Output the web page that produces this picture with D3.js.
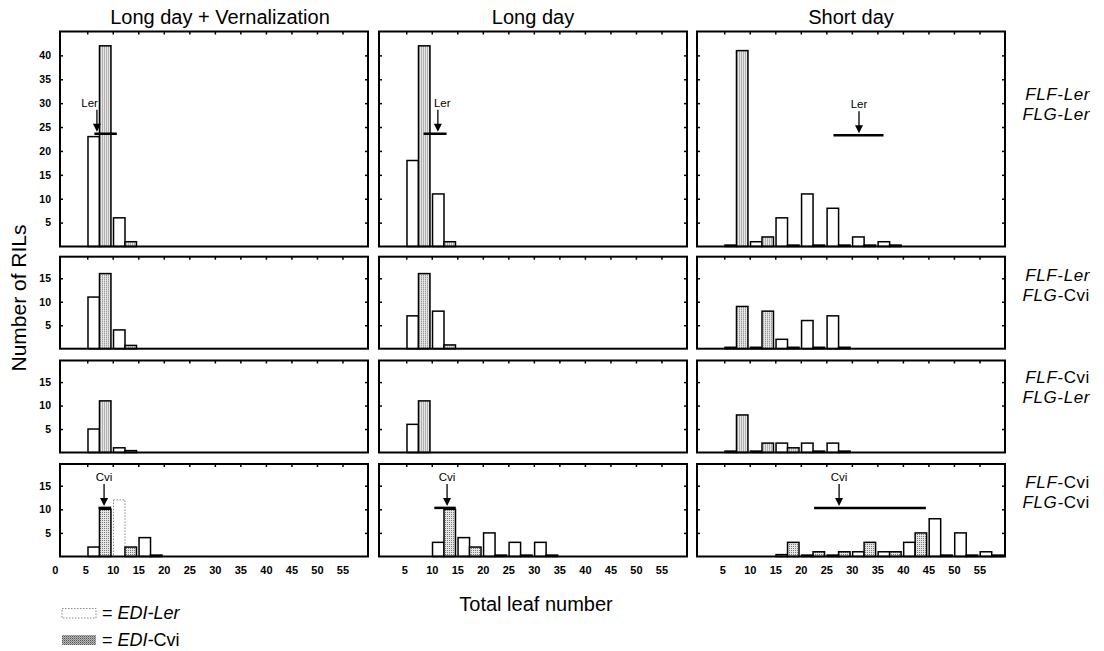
<!DOCTYPE html>
<html>
<head>
<meta charset="utf-8">
<script src="https://cdn.jsdelivr.net/npm/d3@7"></script>
<style>
  body { margin: 0; background: #fff; }
  svg { display: block; font-family: "Liberation Sans", Arial, sans-serif; }
</style>
</head>
<body>
<svg id="fig" width="1104" height="651"></svg>
<script>
// ---- data -------------------------------------------------------------
// Leaf-number classes (5 leaves wide); each class holds an EDI-Ler bar (left half)
// and an EDI-Cvi bar (right half). Values are numbers of RILs.
const binStarts = [0, 5, 10, 15, 20, 25, 30, 35, 40, 45, 50, 55];
const xTickValues = [5, 10, 15, 20, 25, 30, 35, 40, 45, 50, 55];
const conditions = ["Long day + Vernalization", "Long day", "Short day"];
const flfAlleles = ["Ler", "Ler", "Cvi", "Cvi"];
const flgAlleles = ["Ler", "Cvi", "Ler", "Cvi"];
const yTicksTall = [5, 10, 15, 20, 25, 30, 35, 40];
const yTicksShort = [5, 10, 15];

// FLF-Ler / FLG-Ler
const lerLer_LDV_ediLer = [0, 23, 6, 0, 0, 0, 0, 0, 0, 0, 0, 0];
const lerLer_LDV_ediCvi = [0, 42, 1, 0, 0, 0, 0, 0, 0, 0, 0, 0];
const lerLer_LD_ediLer  = [0, 18, 11, 0, 0, 0, 0, 0, 0, 0, 0, 0];
const lerLer_LD_ediCvi  = [0, 42, 1, 0, 0, 0, 0, 0, 0, 0, 0, 0];
const lerLer_SD_ediLer  = [0, 0.3, 1, 6, 11, 8, 2, 1, 0, 0, 0, 0];
const lerLer_SD_ediCvi  = [0, 41, 2, 0.3, 0.3, 0.3, 0.3, 0.3, 0, 0, 0, 0];

// FLF-Ler / FLG-Cvi
const lerCvi_LDV_ediLer = [0, 11, 4, 0, 0, 0, 0, 0, 0, 0, 0, 0];
const lerCvi_LDV_ediCvi = [0, 16, 0.7, 0, 0, 0, 0, 0, 0, 0, 0, 0];
const lerCvi_LD_ediLer  = [0, 7, 8, 0, 0, 0, 0, 0, 0, 0, 0, 0];
const lerCvi_LD_ediCvi  = [0, 16, 0.8, 0, 0, 0, 0, 0, 0, 0, 0, 0];
const lerCvi_SD_ediLer  = [0, 0.3, 0.3, 2, 6, 7, 0, 0, 0, 0, 0, 0];
const lerCvi_SD_ediCvi  = [0, 9, 8, 0.3, 0.3, 0.3, 0, 0, 0, 0, 0, 0];

// FLF-Cvi / FLG-Ler
const cviLer_LDV_ediLer = [0, 5, 1, 0, 0, 0, 0, 0, 0, 0, 0, 0];
const cviLer_LDV_ediCvi = [0, 11, 0.4, 0, 0, 0, 0, 0, 0, 0, 0, 0];
const cviLer_LD_ediLer  = [0, 6, 0, 0, 0, 0, 0, 0, 0, 0, 0, 0];
const cviLer_LD_ediCvi  = [0, 11, 0, 0, 0, 0, 0, 0, 0, 0, 0, 0];
const cviLer_SD_ediLer  = [0, 0.3, 0.3, 2, 2, 2, 0, 0, 0, 0, 0, 0];
const cviLer_SD_ediCvi  = [0, 8, 2, 1, 0.3, 0.3, 0, 0, 0, 0, 0, 0];

// FLF-Cvi / FLG-Cvi
const cviCvi_LDV_ediLer = [0, 2, 12, 4, 0, 0, 0, 0, 0, 0, 0, 0];
const cviCvi_LDV_ediCvi = [0, 10, 2, 0.3, 0, 0, 0, 0, 0, 0, 0, 0];
const cviCvi_LD_ediLer  = [0, 0, 3, 4, 5, 3, 3, 0, 0, 0, 0, 0];
const cviCvi_LD_ediCvi  = [0, 0, 10, 2, 0.3, 0.3, 0.3, 0, 0, 0, 0, 0];
const cviCvi_SD_ediLer  = [0, 0, 0, 0.4, 0.3, 0.3, 1, 1, 3, 8, 5, 1];
const cviCvi_SD_ediCvi  = [0, 0, 0, 3, 1, 1, 3, 1, 5, 0.3, 0.3, 0.3];

// Parental lines: mean leaf number (arrow), range (bar) and the count level of the bar
const parentMarkers = [
  { row: 0, col: 0, label: "Ler", mean: 6.9,  lo: 6.4,  hi: 10.8, level: 23.6 },
  { row: 0, col: 1, label: "Ler", mean: 11.2, lo: 8.4,  hi: 12.9, level: 23.6 },
  { row: 0, col: 2, label: "Ler", mean: 31.4, lo: 26.4, hi: 36.2, level: 23.3 },
  { row: 3, col: 0, label: "Cvi", mean: 8.3,  lo: 7.2,  hi: 9.7,  level: 10.3 },
  { row: 3, col: 1, label: "Cvi", mean: 13.0, lo: 10.5, hi: 14.7, level: 10.3 },
  { row: 3, col: 2, label: "Cvi", mean: 27.5, lo: 22.6, hi: 44.5, level: 10.3 }
];

const panelSeries = [
  [[lerLer_LDV_ediLer, lerLer_LDV_ediCvi], [lerLer_LD_ediLer, lerLer_LD_ediCvi], [lerLer_SD_ediLer, lerLer_SD_ediCvi]],
  [[lerCvi_LDV_ediLer, lerCvi_LDV_ediCvi], [lerCvi_LD_ediLer, lerCvi_LD_ediCvi], [lerCvi_SD_ediLer, lerCvi_SD_ediCvi]],
  [[cviLer_LDV_ediLer, cviLer_LDV_ediCvi], [cviLer_LD_ediLer, cviLer_LD_ediCvi], [cviLer_SD_ediLer, cviLer_SD_ediCvi]],
  [[cviCvi_LDV_ediLer, cviCvi_LDV_ediCvi], [cviCvi_LD_ediLer, cviCvi_LD_ediCvi], [cviCvi_SD_ediLer, cviCvi_SD_ediCvi]]
];

// ---- layout -----------------------------------------------------------
const panelW = 308;
const colLeft = [60, 379, 697];
const rowTop = [31.5, 256.7, 360.5, 464];
const rowH = [215, 92, 92, 92.5];
const yMax = [45, 19.6, 19.6, 19.6];
const font = '"Liberation Sans", Arial, sans-serif';

const svg = d3.select("#fig");
const defs = svg.append("defs");
const stip = defs.append("pattern").attr("id", "stip")
  .attr("width", 2).attr("height", 2).attr("patternUnits", "userSpaceOnUse");
stip.append("rect").attr("width", 2).attr("height", 2).attr("fill", "#e6e6e6");
stip.append("rect").attr("width", 1).attr("height", 1).attr("fill", "#7a7a7a");
const stipDark = defs.append("pattern").attr("id", "stipDark")
  .attr("width", 2).attr("height", 2).attr("patternUnits", "userSpaceOnUse");
stipDark.append("rect").attr("width", 2).attr("height", 2).attr("fill", "#b8b8b8");
stipDark.append("rect").attr("width", 1).attr("height", 1).attr("fill", "#555");
stipDark.append("rect").attr("x", 1).attr("y", 1).attr("width", 1).attr("height", 1).attr("fill", "#8a8a8a");

const x = d3.scaleLinear().domain([0, 60]).range([1.7, panelW]);

// faintly outlined EDI-Ler bars (row, col, class start)
const faintBars = [{ row: 3, col: 0, bin: 10 }];

const labelPlacement = { "0-0": ["end", 1], "0-1": ["start", -4] };

for (let r = 0; r < 4; r++) {
  for (let c = 0; c < 3; c++) {
    const g = svg.append("g").attr("transform", `translate(${colLeft[c]},${rowTop[r]})`);
    const y = d3.scaleLinear().domain([0, yMax[r]]).range([rowH[r], 0]);
    const [lerVals, cviVals] = panelSeries[r][c];

    const bars = [];
    binStarts.forEach((b, i) => {
      if (lerVals[i] > 0) bars.push({ kind: "ler", x0: b + 0.15, x1: b + 2.4, v: lerVals[i], bin: b });
      if (cviVals[i] > 0) bars.push({ kind: "cvi", x0: b + 2.4, x1: b + 4.65, v: cviVals[i], bin: b });
    });

    g.selectAll("rect.bar").data(bars).join("rect")
      .attr("class", "bar")
      .attr("x", d => x(d.x0))
      .attr("width", d => x(d.x1) - x(d.x0))
      .attr("y", d => y(d.v))
      .attr("height", d => y(0) - y(d.v))
      .attr("fill", d => d.kind === "ler" ? "#fff" : "url(#stip)")
      .each(function (d) {
        const faint = d.kind === "ler" && faintBars.some(f => f.row === r && f.col === c && f.bin === d.bin);
        d3.select(this)
          .attr("stroke", faint ? "#888" : "#000")
          .attr("stroke-width", faint ? 1 : 1.5)
          .attr("stroke-dasharray", faint ? "1.5,1.5" : null);
      });

    // panel frame
    g.append("rect").attr("width", panelW).attr("height", rowH[r])
      .attr("fill", "none").attr("stroke", "#000").attr("stroke-width", 2);

    // inward ticks on top, left and right
    const yt = r === 0 ? yTicksTall : yTicksShort;
    const topAxis = g.append("g").call(d3.axisTop(x).tickValues(xTickValues).tickSize(-3).tickFormat(""));
    const leftAxis = g.append("g").call(
      d3.axisLeft(y).tickValues(yt).tickSize(-3).tickPadding(9).tickFormat(c === 0 ? d3.format("d") : "")
    );
    const rightAxis = g.append("g").attr("transform", `translate(${panelW},0)`)
      .call(d3.axisRight(y).tickValues(yt).tickSize(-3).tickFormat(""));
    [topAxis, leftAxis, rightAxis].forEach(a => {
      a.select(".domain").remove();
      a.selectAll("line").attr("stroke", "#000").attr("stroke-width", 1.5);
      a.selectAll("text").attr("font-family", font).attr("font-size", 10.5)
        .attr("font-weight", "bold").attr("fill", "#000");
    });

    // class labels under the bottom row
    if (r === 3) {
      const vals = c === 0 ? [0].concat(xTickValues) : xTickValues;
      const bAxis = g.append("g").attr("transform", `translate(0,${rowH[r]})`)
        .call(d3.axisBottom(x).tickValues(vals).tickSize(0).tickPadding(10));
      bAxis.select(".domain").remove();
      bAxis.selectAll("text").attr("font-family", font).attr("font-size", 11)
        .attr("font-weight", "bold").attr("fill", "#000")
        .attr("dx", d => d === 0 ? -7 : (d === 5 ? -2 : 0));
    }

    // parental markers
    parentMarkers.filter(m => m.row === r && m.col === c).forEach(m => {
      const yl = y(m.level), xm = x(m.mean);
      g.append("line").attr("x1", x(m.lo)).attr("x2", x(m.hi))
        .attr("y1", yl).attr("y2", yl).attr("stroke", "#000").attr("stroke-width", 2.5);
      g.append("line").attr("x1", xm).attr("x2", xm).attr("y1", yl - 24).attr("y2", yl - 9)
        .attr("stroke", "#000").attr("stroke-width", 1.3);
      g.append("path").attr("d", `M${xm - 4},${yl - 10}L${xm + 4},${yl - 10}L${xm},${yl - 2}Z`)
        .attr("fill", "#000");
      const [anchor, dx] = labelPlacement[`${r}-${c}`] || ["middle", 0];
      g.append("text").attr("x", xm + dx).attr("y", yl - 27)
        .attr("text-anchor", anchor).attr("font-family", font).attr("font-size", 11.5)
        .text(m.label);
    });
  }
}

// column titles
conditions.forEach((t, c) => {
  svg.append("text").attr("x", colLeft[c] + panelW / 2 + (c === 0 ? 6 : 0)).attr("y", 24)
    .attr("text-anchor", "middle").attr("font-family", font).attr("font-size", 20)
    .text(t);
});

// genotype labels
const genoBase = [[100, 120], [281, 301], [383, 403], [488, 508]];
function alleleSpan(textSel, gene, allele) {
  textSel.append("tspan").attr("font-style", "italic").text(gene + "-");
  textSel.append("tspan").attr("font-style", allele === "Ler" ? "italic" : "normal").text(allele);
}
for (let r = 0; r < 4; r++) {
  genoBase[r].forEach((yb, k) => {
    const t = svg.append("text").attr("x", 1090).attr("y", yb)
      .attr("text-anchor", "end").attr("font-family", font).attr("font-size", 17)
      .attr("letter-spacing", 0.6);
    alleleSpan(t, k === 0 ? "FLF" : "FLG", k === 0 ? flfAlleles[r] : flgAlleles[r]);
  });
}

// axis titles
svg.append("text").attr("transform", "translate(26,298) rotate(-90)")
  .attr("text-anchor", "middle").attr("font-family", font).attr("font-size", 21)
  .text("Number of RILs");
svg.append("text").attr("x", 536).attr("y", 611).attr("text-anchor", "middle")
  .attr("font-family", font).attr("font-size", 20).text("Total leaf number");

// legend
const legend = svg.append("g");
legend.append("rect").attr("x", 62).attr("y", 608.5).attr("width", 34).attr("height", 9.5)
  .attr("fill", "#fff").attr("stroke", "#888").attr("stroke-width", 1).attr("stroke-dasharray", "1.5,1.5");
legend.append("rect").attr("x", 62).attr("y", 635).attr("width", 34).attr("height", 10)
  .attr("fill", "url(#stipDark)");
const l1 = legend.append("text").attr("x", 102).attr("y", 618.5).attr("font-family", font).attr("font-size", 18);
l1.append("tspan").text("= ");
l1.append("tspan").attr("font-style", "italic").text("EDI-Ler");
const l2 = legend.append("text").attr("x", 102).attr("y", 646).attr("font-family", font).attr("font-size", 18);
l2.append("tspan").text("= ");
l2.append("tspan").attr("font-style", "italic").text("EDI-");
l2.append("tspan").text("Cvi");
</script>
</body>
</html>
